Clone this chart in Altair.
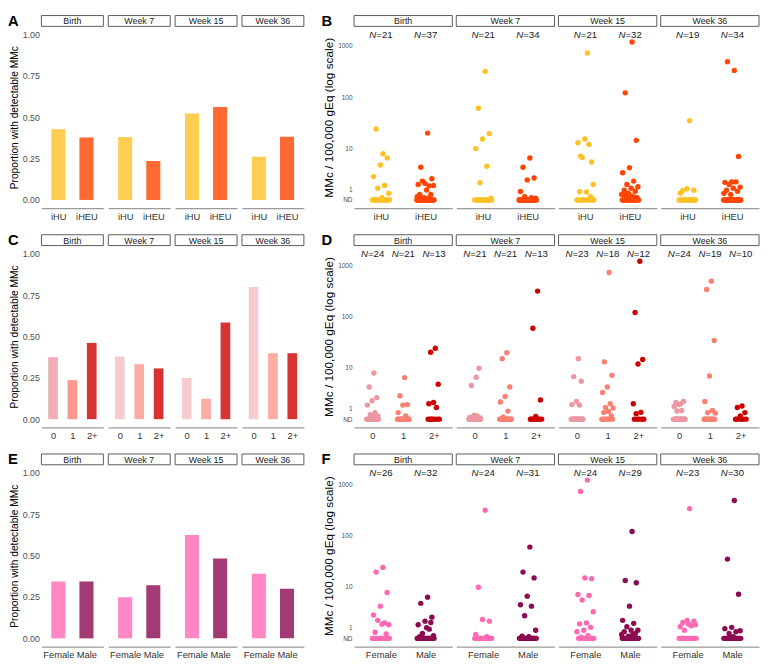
import math
import altair as alt
import pandas as pd

WEEKS = ["Birth", "Week 7", "Week 15", "Week 36"]

# ---------- bar panels: proportion with detectable MMc (per week) ----------
HIV_GROUPS = ["iHU", "iHEU"]
A_IHU = [0.428, 0.381, 0.523, 0.262]
A_IHEU = [0.378, 0.235, 0.562, 0.382]

MM_GROUPS = ["0", "1", "2+"]
C_0 = [0.375, 0.379, 0.249, 0.800]
C_1 = [0.236, 0.333, 0.124, 0.399]
C_2 = [0.461, 0.307, 0.584, 0.399]

SEX_GROUPS = ["Female", "Male"]
E_F = [0.344, 0.249, 0.625, 0.391]
E_M = [0.344, 0.321, 0.483, 0.300]

# ---------- strip panels: detectable MMc values per week (others ND) ----------
B_N_IHU = [21, 21, 21, 19]
B_N_IHEU = [37, 34, 32, 34]
B_IHU = [
    [7.8, 24, 6.4, 4.6, 2.5, 1.4, 1.1, 0.6, 0.2],
    [320, 61, 19.7, 15.3, 9.9, 4.3, 1.7, 0.15],
    [730, 7.0, 5.3, 15.3, 13, 12, 6.6, 1.5, 0.73, 0.75, 0.3],
    [35, 0.87, 0.9, 1.05, 0.62],
]
B_IHEU = [
    [20, 4.1, 2.2, 1.6, 1.5, 1.35, 1.9, 1.4, 0.92, 0.5, 0.5, 0.2, 0.3, 0.15],
    [6.4, 4.1, 2.3, 2.05, 0.77, 0.2, 0.3, 0.15],
    [1190, 122, 14.4, 4.0, 3.1, 1.9, 1.5, 1.25, 1.1, 0.9, 0.8, 0.6, 0.5, 0.35, 0.3, 0.2, 0.15, 0.55],
    [334, 493, 6.9, 1.8, 1.75, 1.8, 1.5, 1.22, 1.1, 0.9, 0.8, 0.5, 0.6],
]

D_N_0 = [24, 21, 23, 24]
D_N_1 = [21, 21, 18, 19]
D_N_2 = [13, 13, 12, 10]
D_0 = [
    [7.8, 4.0, 2.25, 1.85, 1.35, 0.6, 0.4, 0.3, 0.25],
    [6.4, 4.3, 9.7, 0.35, 0.15, 0.3, 0.2, 0.1],
    [15, 6.6, 5.3, 1.75, 1.4, 1.35],
    [1.5, 1.65, 1.75, 1.4, 1.2, 0.8, 0.75],
]
D_1 = [
    [6.3, 2.5, 1.4, 1.35, 0.6, 0.3],
    [19.7, 15, 4.0, 2.4, 1.7, 0.74, 0.2],
    [720, 13, 7.0, 4.0, 3.0, 1.5, 1.1, 1.05, 0.7, 0.6, 0.3],
    [487, 335, 34, 6.8, 1.75, 0.8, 0.6, 0.55],
]
D_2 = [
    [24, 20, 4.6, 1.65, 1.5, 1.1],
    [312, 59, 1.95, 0.25],
    [1190, 120, 14.5, 11.8, 1.5, 0.62, 0.5],
    [1.25, 1.1, 0.6, 0.3],
]

F_N_F = [26, 24, 24, 23]
F_N_M = [32, 31, 29, 30]
F_F = [
    [24, 19.5, 7.7, 4.0, 2.5, 1.5, 1.8, 1.3, 1.35, 0.55, 0.4],
    [314, 9.8, 1.7, 1.9, 0.35, 0.15],
    [1210, 728, 14.5, 15, 7.0, 6.7, 5.4, 3.0, 1.5, 1.4, 1.03, 0.74, 0.6, 0.25, 0.1],
    [337, 1.55, 1.7, 1.8, 1.1, 1.2, 0.74, 1.3, 1.35],
]
F_M = [
    [6.2, 4.6, 2.2, 1.7, 1.3, 0.85, 0.44, 0.25, 1.0, 0.15, 1.55],
    [60, 19.5, 15, 6.5, 4.3, 4.0, 2.4, 0.74, 0.15, 0.2],
    [121, 13.3, 12, 4.0, 1.8, 1.45, 1.1, 0.74, 0.74, 0.6, 0.44, 0.2, 0.35, 0.33],
    [485, 35, 7.1, 1.03, 0.9, 0.6, 0.44, 0.7, 0.15],
]

LOG_TICKS = [0, 1, 10, 100, 1000]
N_LABEL_AT = 1650  # MMc level at which the N= labels sit

# ---------- styling ----------
FONT = "Liberation Sans"
H = 185
WA = 63
WB = 100
STRIP = 11
PSEUDO_LOG = "log(datum.v/2 + sqrt(datum.v*datum.v/4 + 1)) / LN10"
INDEP = dict(color="independent", opacity="independent")


def pseudo_log(v):
    return math.asinh(v / 2) / math.log(10)


def strip_layers(week, width, letter=None, letter_x=-34):
    sdf = pd.DataFrame({"w": [week]})
    rect = alt.Chart(sdf).mark_rect(fill="white", stroke="#5A5A5A", strokeWidth=1).encode(
        x=alt.value(0), x2=alt.value(width), y=alt.value(-STRIP), y2=alt.value(0))
    txt = alt.Chart(sdf).mark_text(fontSize=9, color="#1A1A1A", baseline="middle").encode(
        x=alt.value(width / 2), y=alt.value(-STRIP / 2 + 0.5), text="w:N")
    layers = [rect, txt]
    if letter:
        ldf = pd.DataFrame({"l": [letter]})
        layers.append(alt.Chart(ldf).mark_text(
            fontSize=15, fontWeight="bold", align="left", baseline="alphabetic", color="black"
        ).encode(x=alt.value(letter_x), y=alt.value(-0.5), text="l:N"))
    return layers


def x_axis(groups):
    arr = "[''," + ",".join("'" + g + "'" for g in groups) + "]"
    return alt.Axis(values=list(range(1, len(groups) + 1)), labelExpr=arr + "[round(datum.value)]",
                    title=None, grid=False, ticks=False, domainColor="#7F7F7F", domainWidth=1,
                    labelFontSize=9.5, labelColor="#333333", labelPadding=3, labelFlush=False,
                    labelOverlap=False)


def bar_week(wi, groups, props, colors, opacities, width, letter=None):
    n = len(groups)
    df = pd.DataFrame({"g": groups, "gi": list(range(1, n + 1)), "p": [p[wi] for p in props]})
    xs = alt.Scale(domain=[0.4, n + 0.6], nice=False, zero=False)
    ys = alt.Scale(domain=[-0.05, 1.05], nice=False, zero=False)
    if wi == 0:
        yax = alt.Axis(values=[0, 0.25, 0.5, 0.75, 1.0], format=".2f", grid=False, domain=False,
                       ticks=False, labelFontSize=9, labelColor="#4D4D4D", labelPadding=2,
                       title="Proportion with detectable MMc", titleFontSize=10.4,
                       titleFontWeight="normal", titleColor="black", titlePadding=3)
    else:
        yax = None
    bars = alt.Chart(df).transform_calculate(
        xa="datum.gi - 0.25", xb="datum.gi + 0.25"
    ).mark_bar().encode(
        x=alt.X("xa:Q", scale=xs, axis=x_axis(groups)),
        x2="xb:Q",
        y=alt.Y("p:Q", scale=ys, axis=yax),
        y2=alt.datum(0),
        color=alt.Color("g:N", scale=alt.Scale(domain=groups, range=colors), legend=None),
        opacity=alt.Opacity("g:N", scale=alt.Scale(domain=groups, range=opacities), legend=None),
    )
    return alt.layer(*strip_layers(WEEKS[wi], width, letter if wi == 0 else None), bars).properties(
        width=width, height=H)


def point_week(wi, groups, vals, ns, colors, width, letter=None):
    n = len(groups)
    rows = []
    for gi, (g, vl, nl) in enumerate(zip(groups, vals, ns), start=1):
        det = list(vl[wi])
        nd = nl[wi] - len(det)
        for v in det + [0.0] * nd:
            rows.append({"g": g, "gi": gi, "v": v})
    df = pd.DataFrame(rows)
    ndf = pd.DataFrame({"g": groups, "gi": list(range(1, n + 1)),
                        "lab": ["=" + str(nl[wi]) for nl in ns], "v": [N_LABEL_AT] * n})
    xs = alt.Scale(domain=[0.4, n + 0.6], nice=False, zero=False)
    ys = alt.Scale(domain=[-0.161, 3.381], nice=False, zero=False)
    xax = x_axis(groups)
    if wi == 0:
        yax = alt.Axis(values=[pseudo_log(v) for v in LOG_TICKS],
                       labelExpr="datum.value < 0.1 ? 'ND' : datum.value < 0.5 ? '1' : datum.value < 1.5 ? '10' : datum.value < 2.5 ? '100' : '1000'",
                       grid=False, domain=False, ticks=False, labelFontSize=6.6, labelColor="#4D4D4D",
                       labelPadding=2, title="MMc / 100,000 gEq (log scale)", titleFontSize=12,
                       titleFontWeight="normal", titleColor="black", titlePadding=2)
    else:
        yax = None
    pts = alt.Chart(df).transform_window(
        rn="row_number()", groupby=["g"]
    ).transform_calculate(
        t=PSEUDO_LOG,
        xp="datum.gi + ((datum.rn * 0.6180339887) % 1 - 0.5) * 0.4",
    ).mark_circle(size=30, opacity=1).encode(
        x=alt.X("xp:Q", scale=xs, axis=xax),
        y=alt.Y("t:Q", scale=ys, axis=yax),
        color=alt.Color("g:N", scale=alt.Scale(domain=groups, range=colors), legend=None),
    )
    nbase = alt.Chart(ndf).transform_calculate(t=PSEUDO_LOG)
    n_it = nbase.mark_text(text="N", fontStyle="italic", align="right", dx=-4.6, fontSize=9.8,
                           color="#1A1A1A", baseline="middle").encode(
        x=alt.X("gi:Q", scale=xs, axis=xax), y=alt.Y("t:Q", scale=ys, axis=yax))
    n_eq = nbase.mark_text(align="left", dx=-4.6, fontSize=9.8, color="#1A1A1A",
                           baseline="middle").encode(
        x=alt.X("gi:Q", scale=xs, axis=xax), y=alt.Y("t:Q", scale=ys, axis=yax), text="lab:N")
    return alt.layer(*strip_layers(WEEKS[wi], width, letter if wi == 0 else None, -33),
                     pts, n_it, n_eq).properties(width=width, height=H)


A_COL = ["#FFC125", "#FF4500"]
C_COL = ["#ED97A2", "#FA8072", "#CD0000"]
E_COL = ["#FF69B4", "#8B0A50"]


def row(charts, spacing):
    return alt.hconcat(*charts, spacing=spacing).resolve_scale(**INDEP)


rowA = row([bar_week(i, HIV_GROUPS, [A_IHU, A_IHEU], A_COL, [0.8, 0.8], WA, "A")
            for i in range(4)], 3)
rowB = row([point_week(i, HIV_GROUPS, [B_IHU, B_IHEU], [B_N_IHU, B_N_IHEU], A_COL, WB, "B")
            for i in range(4)], 2)
rowC = row([bar_week(i, MM_GROUPS, [C_0, C_1, C_2], C_COL,
                     [0.8, 0.8, 0.8] if i == 0 else [0.5, 0.8, 0.8], WA, "C")
            for i in range(4)], 3)
rowD = row([point_week(i, MM_GROUPS, [D_0, D_1, D_2], [D_N_0, D_N_1, D_N_2], C_COL, WB, "D")
            for i in range(4)], 2)
rowE = row([bar_week(i, SEX_GROUPS, [E_F, E_M], E_COL, [0.8, 0.8], WA, "E")
            for i in range(4)], 3)
rowF = row([point_week(i, SEX_GROUPS, [F_F, F_M], [F_N_F, F_N_M], E_COL, WB, "F")
            for i in range(4)], 2)

chart = alt.vconcat(
    row([rowA, rowB], 17),
    row([rowC, rowD], 17),
    row([rowE, rowF], 17),
    spacing=12,
).resolve_scale(**INDEP).properties(padding=0).configure(font=FONT).configure_view(
    stroke=None).configure_axis(labelFont=FONT, titleFont=FONT)

chart.save("out.html", embed_options={"renderer": "svg", "actions": False})
